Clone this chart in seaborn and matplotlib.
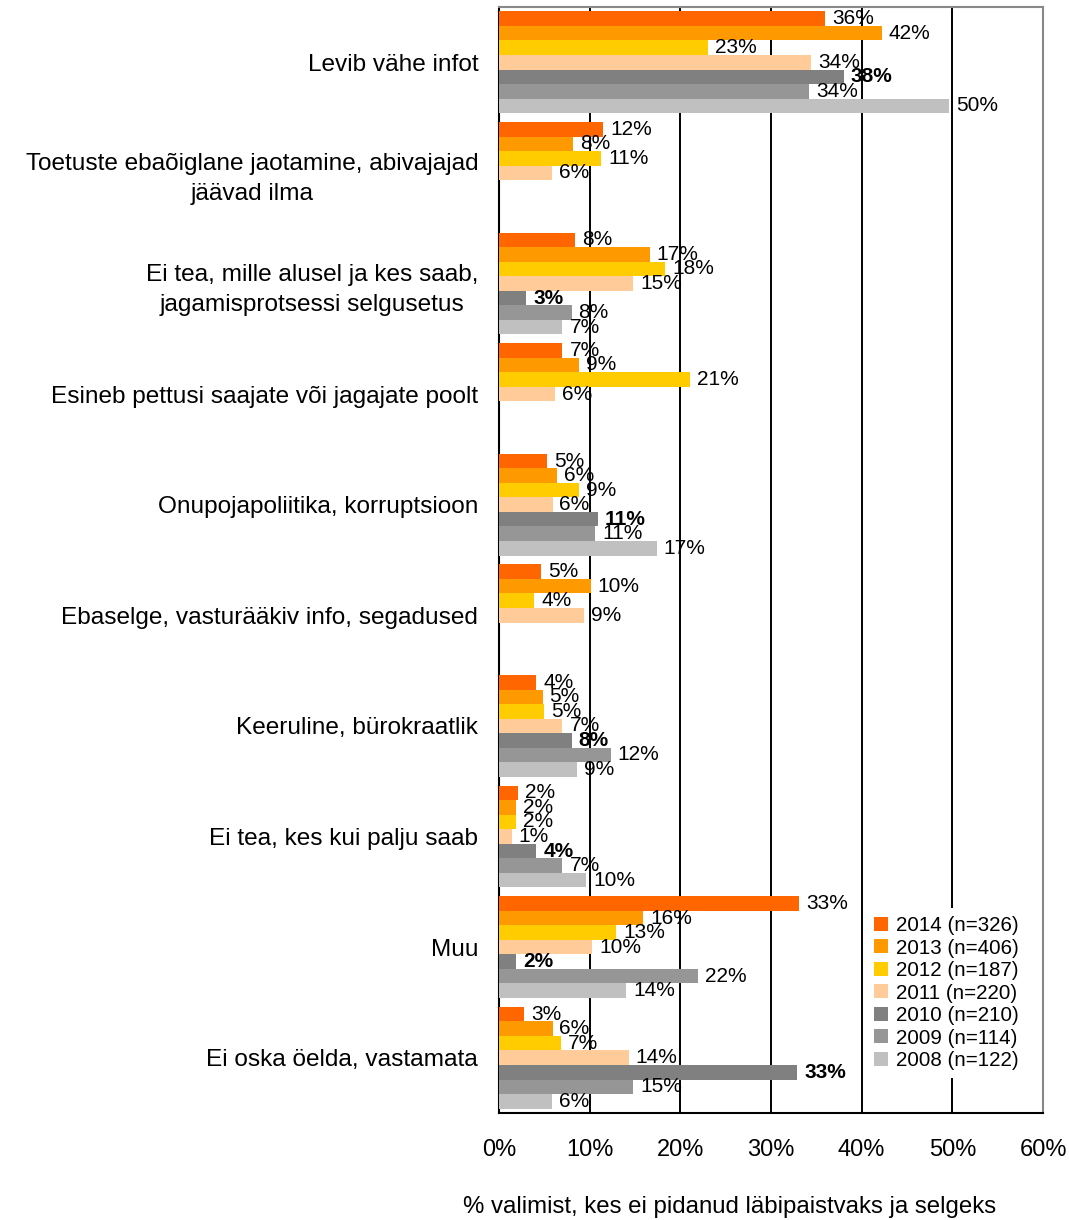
import numpy as np
import pandas as pd
import matplotlib
matplotlib.use("Agg")
import matplotlib.pyplot as plt
import seaborn as sns

categories = [
    "Levib vähe infot",
    "Toetuste ebaõiglane jaotamine, abivajajad\njäävad ilma",
    "Ei tea, mille alusel ja kes saab,\njagamisprotsessi selgusetus",
    "Esineb pettusi saajate või jagajate poolt",
    "Onupojapoliitika, korruptsioon",
    "Ebaselge, vasturääkiv info, segadused",
    "Keeruline, bürokraatlik",
    "Ei tea, kes kui palju saab",
    "Muu",
    "Ei oska öelda, vastamata",
]
years = ["2014 (n=326)", "2013 (n=406)", "2012 (n=187)", "2011 (n=220)",
         "2010 (n=210)", "2009 (n=114)", "2008 (n=122)"]
nan = np.nan
v2014 = [36.0, 11.5, 8.4, 7.0, 5.3, 4.6, 4.1, 2.1, 33.1, 2.8]
v2013 = [42.2, 8.2, 16.6, 8.8, 6.4, 10.1, 4.8, 1.9, 15.9, 5.9]
v2012 = [23.1, 11.3, 18.3, 21.1, 8.8, 3.9, 5.0, 1.9, 12.9, 6.8]
v2011 = [34.4, 5.8, 14.8, 6.2, 5.9, 9.4, 7.0, 1.4, 10.3, 14.3]
v2010 = [38.0, nan, 3.0, nan, 10.9, nan, 8.0, 4.1, 1.9, 32.9]
v2009 = [34.2, nan, 8.0, nan, 10.6, nan, 12.3, 7.0, 21.9, 14.8]
v2008 = [49.6, nan, 7.0, nan, 17.4, nan, 8.6, 9.6, 14.0, 5.8]
series = [v2014, v2013, v2012, v2011, v2010, v2009, v2008]
colors = ["#FF6600", "#FF9900", "#FFCC00", "#FFCC99", "#808080", "#969696", "#C0C0C0"]
xticks = [0, 10, 20, 30, 40, 50, 60]
xticklabels = ["0%", "10%", "20%", "30%", "40%", "50%", "60%"]
xlabel = "% valimist, kes ei pidanud läbipaistvaks ja selgeks"

sns.set_style("white")
plt.rcParams["font.family"] = ["Liberation Sans", "DejaVu Sans"]
plt.rcParams["text.color"] = "black"
plt.rcParams["axes.labelcolor"] = "black"
plt.rcParams["xtick.color"] = "black"
plt.rcParams["ytick.color"] = "black"

# long table for seaborn
rows = []
for year, vals in zip(years, series):
    for cat, v in zip(categories, vals):
        rows.append({"category": cat, "year": year, "value": v})
df = pd.DataFrame(rows).dropna()

fig = plt.figure(figsize=(10.69, 12.2), dpi=100)
ax = fig.add_axes([0.4668, 0.0877, 0.5089, 0.9066])

sns.barplot(data=df, x="value", y="category", hue="year", order=categories,
            hue_order=years, palette=colors, orient="h", dodge=True,
            width=0.92, errorbar=None, saturation=1, linewidth=0,
            ax=ax, zorder=3)

for i, cont in enumerate(ax.containers):
    texts = ax.bar_label(cont, fmt="{:.0f}%", padding=5, fontsize=15, color="black")
    if years[i].startswith("2010"):
        for t in texts:
            t.set_fontweight("bold")

ax.set_xlim(0, 60)
ax.set_ylim(len(categories) - 0.5, -0.5)
ax.set_xticks(xticks)
ax.set_xticklabels(xticklabels, fontsize=17)
ax.xaxis.grid(True, color="black", lw=1.4, zorder=0)
ax.set_axisbelow(True)

# category separators as major ticks, names on minor ticks
ax.set_yticks(np.arange(len(categories) + 1) - 0.5)
ax.set_yticklabels([""] * (len(categories) + 1))
ax.set_yticks(np.arange(len(categories)), minor=True)
ax.set_yticklabels(categories, minor=True, fontsize=17.6,
                   multialignment="center", linespacing=1.45)
ax.tick_params(axis="y", which="minor", length=0, pad=15)
ax.tick_params(axis="y", which="major", length=4.5, width=1.3, color="black")
ax.tick_params(axis="x", length=4.5, width=1.3, pad=14, color="black", direction="out")
ax.set_ylabel("")
ax.set_xlabel(xlabel, fontsize=17.3)
ax.xaxis.set_label_coords(0.423, -0.075)

for side in ["left", "bottom"]:
    ax.spines[side].set_color("black")
    ax.spines[side].set_linewidth(1.5)
for side in ["top", "right"]:
    ax.spines[side].set_color("#888888")
    ax.spines[side].set_linewidth(1.5)

handles, labels = ax.get_legend_handles_labels()
leg = ax.legend(handles, labels, loc="upper left", bbox_to_anchor=(0.675, 0.1855),
                fontsize=14.8, frameon=True, facecolor="white", edgecolor="none",
                framealpha=1, fancybox=False, handlelength=0.65, handleheight=0.65,
                handletextpad=0.4, labelspacing=0.17, borderpad=0.4, borderaxespad=0)
leg.set_zorder(5)

fig.savefig("out.png", dpi=100)
